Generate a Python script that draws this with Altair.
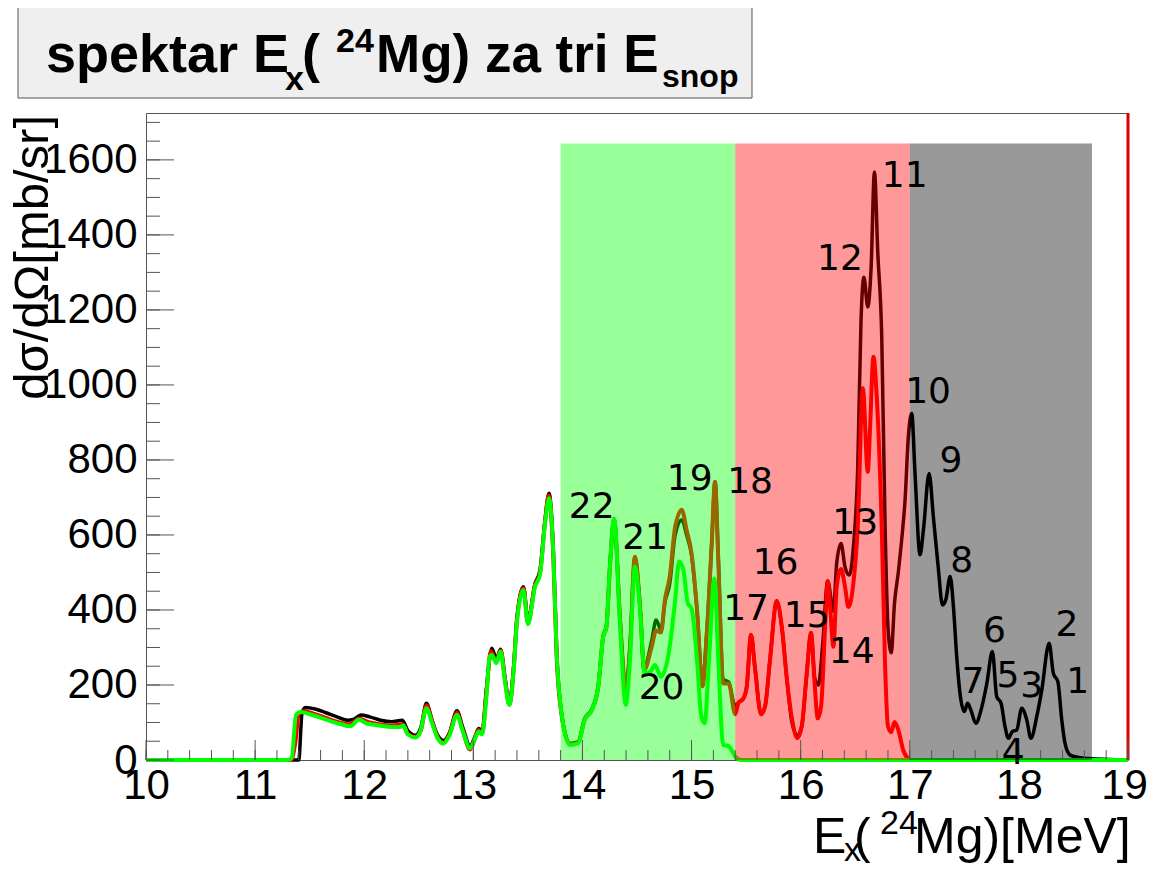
import altair as alt
import pandas as pd

# ---------------- data ----------------
black_x = [10.0, 11.40, 11.43, 11.46, 11.55, 11.65, 11.75, 11.85, 11.90, 11.97, 12.05, 12.15, 12.25, 12.35,
           12.40, 12.47, 12.52, 12.57, 12.62, 12.67, 12.73, 12.78, 12.85, 12.90, 12.97, 13.02, 13.05, 13.08,
           13.12, 13.17, 13.21, 13.25, 13.29, 13.33, 13.37, 13.40, 13.46, 13.50, 13.565, 13.61, 13.657, 13.694,
           13.733, 13.764, 13.81, 13.886, 13.96, 14.02, 14.085, 14.145, 14.19, 14.22, 14.25, 14.29, 14.345,
           14.397, 14.436, 14.48, 14.53, 14.565, 14.635, 14.675, 14.72, 14.756, 14.80, 14.85, 14.91, 14.955,
           15.0, 15.05, 15.10, 15.14, 15.185, 15.215, 15.245, 15.29, 15.34, 15.40, 15.43, 15.475, 15.506,
           15.545, 15.58, 15.637, 15.674, 15.72, 15.78, 15.827, 15.873, 15.92, 15.97, 16.01, 16.055, 16.095,
           16.13, 16.163, 16.20, 16.248, 16.30, 16.33, 16.37, 16.407, 16.446, 16.483, 16.523, 16.553, 16.58,
           16.615, 16.645, 16.676, 16.707, 16.743, 16.774, 16.80, 16.83, 16.86, 16.896, 16.926, 16.957, 16.987,
           17.018, 17.048, 17.094, 17.125, 17.177, 17.216, 17.26, 17.30, 17.33, 17.37, 17.40, 17.43, 17.46,
           17.50, 17.53, 17.56, 17.605, 17.653, 17.706, 17.757, 17.797, 17.837, 17.873, 17.904, 17.94, 17.98,
           18.026, 18.072, 18.11, 18.164, 18.21, 18.277, 18.316, 18.357, 18.393, 18.423, 18.47, 18.545, 18.64,
           19.0]
black_y = [0, 0, 125, 140, 136, 126, 115, 106, 108, 120, 115, 106, 102, 106,
           78, 66, 88, 151, 108, 68, 52, 72, 131, 90, 38, 66, 84, 75,
           190, 298, 270, 295, 220, 152, 250, 380, 462, 372, 470, 505, 640, 711,
           560, 290, 122, 44, 48, 110, 135, 198, 330, 358, 510, 642, 375,
           190, 302, 540, 400, 248, 318, 373, 347, 420, 470, 600, 640, 600,
           545, 400, 205, 345, 578, 742, 540, 215, 208, 143, 153, 164, 196,
           334, 249, 122, 143, 270, 424, 355, 217, 100, 65, 90, 228, 339,
           217, 200, 302, 477, 397, 524, 577, 514, 493, 567, 779, 1171, 1287,
           1208, 1309, 1568, 1351, 1129, 620, 355, 286, 418, 503, 588, 694, 863,
           924, 764, 547, 613, 764, 649, 516, 413, 427, 489, 409, 276, 178,
           129, 151, 133, 98, 133, 204, 289, 169, 151, 89, 58, 76, 80,
           138, 107, 58, 116, 187, 311, 231, 209, 107, 44, 13, 7, 4,
           0]

red_x = [10.0, 11.33, 11.37, 11.40, 11.45, 11.55, 11.65, 11.75, 11.87, 11.95, 12.05, 12.15, 12.25, 12.35,
         12.40, 12.47, 12.52, 12.57, 12.62, 12.67, 12.725, 12.78, 12.85, 12.90, 12.97, 13.02, 13.05, 13.08,
         13.12, 13.16, 13.21, 13.25, 13.29, 13.33, 13.37, 13.40, 13.46, 13.50, 13.565, 13.61, 13.657, 13.69,
         13.733, 13.764, 13.81, 13.886, 13.96, 14.02, 14.085, 14.145, 14.19, 14.22, 14.25, 14.29, 14.345,
         14.397, 14.436, 14.48, 14.53, 14.565, 14.635, 14.675, 14.72, 14.756, 14.80, 14.85, 14.91, 14.955,
         15.0, 15.05, 15.10, 15.14, 15.185, 15.215, 15.245, 15.29, 15.34, 15.40, 15.43, 15.475, 15.506,
         15.545, 15.58, 15.637, 15.674, 15.72, 15.78, 15.827, 15.873, 15.92, 15.97, 16.01, 16.055, 16.095,
         16.125, 16.157, 16.187, 16.224, 16.248, 16.27, 16.30, 16.33, 16.37, 16.407, 16.437, 16.483, 16.523,
         16.57, 16.615, 16.636, 16.667, 16.697, 16.743, 16.774, 16.80, 16.83, 16.86, 16.896, 16.94, 16.98,
         17.0, 19.0]
red_y = [0, 0, 50, 122, 130, 122, 112, 102, 95, 110, 100, 95, 92, 95,
         70, 62, 80, 145, 105, 62, 46, 68, 125, 82, 28, 62, 80, 70,
         180, 290, 262, 292, 215, 148, 245, 375, 458, 365, 466, 497, 635, 705,
         545, 275, 118, 42, 46, 107, 133, 196, 329, 355, 507, 640, 373,
         187, 300, 542, 400, 240, 302, 345, 340, 427, 489, 622, 667, 613,
         551, 400, 196, 338, 578, 742, 533, 204, 204, 122, 153, 164, 196,
         334, 249, 122, 143, 270, 424, 355, 217, 111, 58, 90, 228, 339,
         217, 111, 143, 355, 477, 408, 302, 461, 509, 461, 408, 471, 620,
         991, 768, 885, 1075, 970, 620, 249, 90, 74, 101, 79, 26, 5,
         0, 0]

green_x = [10.0, 11.30, 11.335, 11.375, 11.42, 11.50, 11.58, 11.66, 11.78, 11.87, 11.95, 12.02, 12.14, 12.25,
           12.33, 12.36, 12.40, 12.47, 12.51, 12.57, 12.62, 12.67, 12.725, 12.78, 12.85, 12.90, 12.97, 13.02,
           13.05, 13.08, 13.12, 13.15, 13.17, 13.21, 13.25, 13.29, 13.33, 13.37, 13.40, 13.46, 13.50, 13.565,
           13.61, 13.657, 13.694, 13.733, 13.764, 13.81, 13.886, 13.96, 14.02, 14.085, 14.145, 14.19, 14.22,
           14.25, 14.29, 14.345, 14.397, 14.436, 14.48, 14.53, 14.57, 14.62, 14.665, 14.72, 14.79, 14.85,
           14.885, 14.925, 14.965, 15.0, 15.05, 15.09, 15.12, 15.16, 15.21, 15.245, 15.29, 15.34, 15.40,
           15.45, 19.0]
green_y = [0, 0, 5, 120, 128, 122, 115, 107, 96, 90, 107, 98, 92, 88,
           88, 92, 68, 60, 72, 138, 100, 60, 44, 65, 120, 80, 31, 60,
           76, 68, 170, 276, 280, 258, 289, 210, 147, 240, 370, 453, 362, 462,
           493, 631, 698, 551, 284, 120, 40, 44, 107, 133, 196, 329, 355,
           507, 644, 355, 147, 267, 516, 391, 231, 235, 253, 222, 284, 427,
           529, 507, 418, 404, 267, 116, 98, 267, 484, 267, 40, 37, 9,
           0, 0]

band_start = [13.8, 15.4, 17.0]
band_end = [15.4, 17.0, 18.67]
band_top = [1644, 1644, 1644]
band_color = ["#00ff00", "#ff0000", "#000000"]

peak_text = ["1", "2", "3", "4", "5", "6", "7", "8", "9", "10", "11",
             "12", "13", "14", "15", "16", "17", "18", "19", "20", "21", "22"]
peak_x = [18.538, 18.44, 18.118, 17.947, 17.90, 17.777, 17.58, 17.476, 17.378, 17.168, 16.953,
          16.36, 16.50, 16.468, 16.055, 15.77, 15.50, 15.536, 14.983, 14.725, 14.574, 14.085]
peak_y = [209, 361, 197, 19, 225, 345, 209, 530, 797, 981, 1556,
          1336, 633, 288, 383, 525, 402, 741, 748, 193, 592, 675]

x_labels = [10, 11, 12, 13, 14, 15, 16, 17, 18, 19]
y_labels = [0, 200, 400, 600, 800, 1000, 1200, 1400, 1600]
x_minor = [round(10 + 0.2 * i, 2) for i in range(46)]
y_minor = [50 * i for i in range(35)]

# ---------------- layout ----------------
W, H = 982, 647
OX, OY = 146, 113  # page position of plot origin
XMIN, XMAX, YMAX = 10, 19, 1725

xscale = alt.Scale(domain=[XMIN, XMAX], nice=False, zero=False)
yscale = alt.Scale(domain=[0, YMAX], nice=False, zero=False)
x_axis = alt.Axis(values=x_labels, format="d", ticks=False, domain=False, grid=False,
                  labelFont="Liberation Sans", labelFontSize=42, labelColor="black",
                  labelPadding=5, labelFlush=False, labelOverlap=False,
                  labelOffset={"condition": {"test": "datum.value == 19", "value": -4}, "value": 0})
y_axis = alt.Axis(values=y_labels, format="d", ticks=False, domain=False, grid=False,
                  labelFont="Liberation Sans", labelFontSize=42, labelColor="black",
                  labelPadding=9, labelFlush=False, labelOverlap=False)


def X(f):
    return alt.X(f, type="quantitative", scale=xscale, axis=x_axis, title=None)


def Y(f):
    return alt.Y(f, type="quantitative", scale=yscale, axis=y_axis, title=None)


one = alt.Data(values=[{"a": 1}])


def txt(s, px, py, size, bold=False, align="left", angle=None, font="Liberation Sans"):
    kw = dict(text=s, font=font, fontSize=size, fontWeight="bold" if bold else "normal",
              align=align, baseline="alphabetic", color="black")
    if angle is not None:
        kw["angle"] = angle
    return alt.Chart(one).mark_text(**kw).encode(x=alt.value(px - OX), y=alt.value(py - OY))


def curve(xs, ys, color, width):
    df = pd.DataFrame({"x": xs, "y": ys})
    return alt.Chart(df).mark_line(color=color, strokeWidth=width, strokeJoin="round",
                                   interpolate="monotone").encode(x=X("x"), y=Y("y"))


layers = []

# title box
layers.append(alt.Chart(one).mark_rect(fill="#efefef", stroke="#555555", strokeWidth=1).encode(
    x=alt.value(18 - OX), x2=alt.value(752 - OX), y=alt.value(2 - OY), y2=alt.value(98 - OY)))
layers += [
    txt("spektar E", 46, 72, 54, bold=True),
    txt("x", 285, 90, 34, bold=True),
    txt("(", 302, 72, 54, bold=True),
    txt("24", 336, 52, 34, bold=True),
    txt("Mg) za tri E", 376, 72, 53, bold=True),
    txt("snop", 662, 87, 32, bold=True),
]

# curves
layers.append(curve(black_x, black_y, "#000000", 3.5))
layers.append(curve(red_x, red_y, "#ff0000", 4))
layers.append(curve(green_x, green_y, "#00ff00", 4))

# shaded bands
bands = pd.DataFrame({"s": band_start, "e": band_end, "t": band_top, "b": [0, 0, 0], "c": band_color})
layers.append(alt.Chart(bands).mark_rect(opacity=0.4).encode(
    x=X("s"), x2="e", y=Y("b"), y2="t", color=alt.Color("c:N", scale=None)))

# red line at right edge
layers.append(alt.Chart(pd.DataFrame({"x": [19.0], "y0": [0], "y1": [YMAX]})).mark_rule(
    color="#dd0000", strokeWidth=3).encode(x=X("x"), y=Y("y0"), y2="y1"))

# ticks (inward, ROOT style)
layers.append(alt.Chart(pd.DataFrame({"v": x_labels})).mark_rule(color="#555555", strokeWidth=1).encode(
    x=X("v"), y=alt.value(H), y2=alt.value(H - 20)))
layers.append(alt.Chart(pd.DataFrame({"v": x_minor})).mark_rule(color="#555555", strokeWidth=1).encode(
    x=X("v"), y=alt.value(H), y2=alt.value(H - 10)))
layers.append(alt.Chart(pd.DataFrame({"v": y_labels})).mark_rule(color="#555555", strokeWidth=1).encode(
    y=Y("v"), x=alt.value(0), x2=alt.value(28)))
layers.append(alt.Chart(pd.DataFrame({"v": y_minor})).mark_rule(color="#555555", strokeWidth=1).encode(
    y=Y("v"), x=alt.value(0), x2=alt.value(14)))

# peak numbers
peaks = pd.DataFrame({"t": peak_text, "x": peak_x, "y": peak_y})
layers.append(alt.Chart(peaks).mark_text(font="DejaVu Sans", fontSize=36, align="center",
                                         baseline="middle", color="black").encode(
    x=X("x"), y=Y("y"), text="t:N"))

# axis titles
layers += [
    txt("E", 813, 853, 50),
    txt("x", 844, 861, 34),
    txt("(", 854, 853, 50),
    txt("24", 880, 834, 34),
    txt("Mg)[MeV]", 914, 853, 50),
    txt("dσ/dΩ[mb/sr]", 48, 115, 49, align="right", angle=270),
]

chart = alt.layer(*layers).properties(
    width=W, height=H,
    autosize=alt.AutoSizeParams(type="none"),
    padding={"left": OX - 8, "top": OY - 8, "right": 19, "bottom": 104},
    background="white",
).configure_view(stroke="#555555", strokeWidth=1)

chart.save("out.html", embed_options={"renderer": "svg", "actions": False})
